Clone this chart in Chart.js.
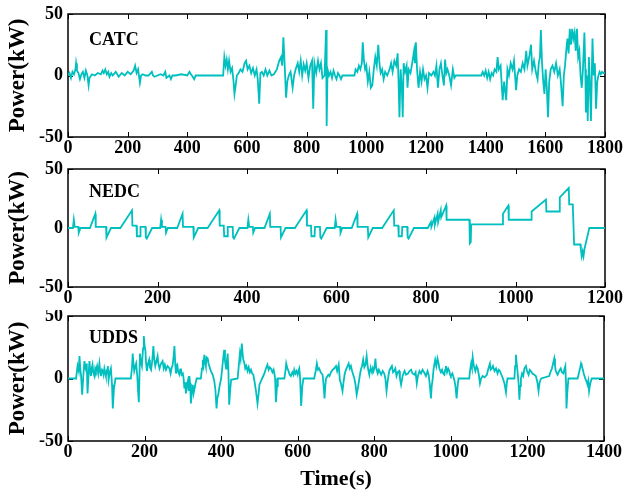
<!DOCTYPE html>
<html lang="en">
<head>
<meta charset="UTF-8">
<title>Power profiles</title>
<style>
  body { margin: 0; background: #fff; }
  .panel { position: absolute; left: 0; width: 627px; }
</style>
</head>
<body>
<div class="panel" style="top:0;height:160px"><canvas id="catcChart" width="627" height="160"></canvas></div>
<div class="panel" style="top:160px;height:150px"><canvas id="nedcChart" width="627" height="150"></canvas></div>
<div class="panel" style="top:310px;height:186px"><canvas id="uddsChart" width="627" height="186"></canvas></div>

<script src="https://cdn.jsdelivr.net/npm/chart.js"></script>
<script>
// CATC cycle: time (s) and power (kW)
const catcTime = [
  0,5,10,15,20,25,27,30,35,40, 45,50,55,60,65,69,72,80,90,100,
  110,116,120,125,130,135,139,145,150,160, 170,180,190,200,210,220,225,230,235,241,
  245,250,260,270,281,285,290,300,310,320, 326,330,340,345,350,360,380,400,407,412,
  418,423,428,440,520,524,528,532,536,540, 545,550,555,558,562,566,572,578,585,592,
  597,602,608,614,620,626,632,636,641,645, 650,656,662,668,675,682,690,700,708,714,
  718,722,726,731,735,740,746,753,758,763, 770,775,780,785,790,795,800,806,812,818,
  822,826,832,838,843,848,853,860,865,867, 870,875,880,885,890,895,900,905,910,915,
  920,960,964,970,975,980,985,988,992,996, 1000,1005,1010,1015,1020,1025,1030,1035,1040,1044,
  1048,1053,1058,1063,1070,1078,1083,1088,1094,1100, 1105,1108,1111,1115,1119,1122,1125,1130,1135,1138,
  1142,1148,1155,1160,1163,1166,1170,1175,1180,1185, 1190,1195,1200,1205,1210,1218,1225,1230,1235,1240,
  1245,1250,1255,1260,1264,1268,1272,1278,1284,1290, 1295,1300,1385,1390,1395,1400,1405,1410,1415,1420,
  1425,1430,1436,1440,1444,1450,1457,1462,1469,1473, 1478,1484,1490,1495,1502,1506,1512,1518,1524,1530,
  1536,1540,1546,1552,1556,1562,1568,1574,1578,1582, 1585,1589,1593,1597,1601,1605,1609,1613,1618,1624,
  1630,1636,1642,1648,1652,1658,1662,1666,1670,1674, 1678,1682,1686,1690,1694,1698,1702,1706,1710,1714,
  1718,1722,1726,1731,1734,1736,1740,1742,1746,1749, 1753,1756,1758,1762,1766,1770,1774,1778,1782,1786,
  1790,1795,1800
];
const catcPower = [
  0,2,-2,3,1,5,10,4,2,-3, 1,3,-2,4,0,-8,-2,1,0,2,
  1,4,2,5,1,3,-1,2,0,3, -1,2,0,3,1,4,8,2,5,-6,
  0,1,0,0,3,0,-1,0,1,0, 3,-2,0,-3,0,0,1,0,3,1,
  -1,-3,0,0,0,15,8,13,5,12, 3,6,-5,-15,-8,0,2,5,3,10,
  12,5,8,2,6,0,5,-3,-23,2, 3,0,5,0,4,0,1,5,12,15,
  8,31,10,-18,-5,0,3,-10,0,5, 10,3,12,0,9,4,10,-2,8,12,
  -27,10,2,12,5,10,-2,0,37,-41, 5,0,3,-2,4,0,-3,2,0,-3,
  0,0,5,3,8,5,10,27,12,5, 8,-5,3,-10,-8,5,15,8,25,10,
  2,5,-3,3,0,5,10,3,12,8, 18,-5,-34,5,-10,-34,10,3,8,-10,
  5,2,12,20,10,27,5,-10,3,-5, 5,-3,0,-10,2,0,3,0,8,-10,
  5,10,0,-8,13,2,5,0,-8,5, -2,0,0,3,0,4,-2,3,-3,2,
  0,5,3,15,5,8,-20,-5,-20,5, 0,10,5,12,-12,0,5,3,10,5,
  20,8,15,25,5,12,3,-3,10,15, 37,10,-5,-15,5,-10,-34,-5,5,8,
  3,10,0,5,-5,-25,0,8,20,30, 18,38,25,38,30,35,20,38,15,20,
  0,-10,5,35,5,-30,0,-37,15,-5, -37,5,30,0,10,-27,-5,0,3,1,
  3,2,2
];

// NEDC cycle: four ECE parts and the EUDC part
const nedcTime = [
  0,11,13,15,23,24,28,49,61,62,85,86,96,117,143,144,153,154,161,162,173,174,176,188,
  195,206,208,210,218,219,223,244,256,257,280,281,291,312,338,339,348,349,356,357,368,369,371,383,
  390,401,403,405,413,414,418,439,451,452,475,476,486,507,533,534,543,544,551,552,563,564,566,578,
  585,596,598,600,608,609,613,634,646,647,670,671,681,702,728,729,738,739,746,747,758,759,761,773,
  780,804,811,812,819,820,826,827,833,834,845,846,897,898,900,901,971,972,984,985,
  1035,1036,1068,1069,1098,1099,1119,1120,1128,1131,1145,1146,1148,1150,1152,1154,1165,1200
];
const nedcPower = [
  0,0,7,1,1,-4,0,0,12,1,1,-8,0,0,15,2,2,-7,-7,1,1,-8,-9,0,
  0,0,7,1,1,-4,0,0,12,1,1,-8,0,0,15,2,2,-7,-7,1,1,-8,-9,0,
  0,0,7,1,1,-4,0,0,12,1,1,-8,0,0,15,2,2,-7,-7,1,1,-8,-9,0,
  0,0,7,1,1,-4,0,0,12,1,1,-8,0,0,15,2,2,-7,-7,1,1,-8,-9,0,
  0,0,5,1,9,3,12,5,15,9,19,7,7,-13,-12,3,3,12,19,7,
  7,14,24,14,14,26,34,20,20,-14,-14,-18,-24,-20,-24,-18,0,0
];

// UDDS cycle
const uddsTime = [
  0,21,25,28,30,32,34,37,40,43, 45,47,49,51,54,56,58,60,62,64,
  66,69,71,73,76,79,82,84,86,89, 91,93,95,97,99,102,104,106,109,112,
  115,117,120,124,164,167,169,171,173,176, 178,181,183,185,188,190,193,196,198,200,
  202,204,206,209,212,214,217,220,223,225, 228,231,234,236,239,243,247,250,253,256,
  260,265,268,271,273,276,278,280,282,284, 286,288,291,293,295,297,300,302,304,306,
  308,310,313,315,317,319,321,324,326,328, 330,333,336,347,350,352,354,356,358,360,
  362,365,367,369,373,378,382,385,388,390, 393,396,400,404,406,408,410,413,415,417,
  419,421,424,426,443,446,449,451,454,456, 458,461,463,466,469,472,475,478,481,484,
  487,491,495,498,500,504,507,510,513,517, 521,524,527,530,534,537,539,541,543,546,
  548,565,568,570,573,576,579,582,586,589, 591,594,597,600,602,604,606,609,612,615,
  643,647,650,653,656,660,665,667,670,672, 674,680,683,687,691,695,700,703,707,710,
  713,717,720,723,726,729,733,736,739,742, 745,748,751,754,757,759,762,765,768,771,
  774,777,780,783,785,787,789,791,794,796, 798,801,803,805,807,809,812,815,818,822,
  826,829,832,835,839,842,846,849,852,855, 858,861,865,867,870,874,879,883,888,892,
  896,900,905,908,911,914,918,922,926,930, 935,939,942,945,948,950,952,955,959,962,
  965,968,970,974,977,980,983,985,987,990, 993,996,998,1000,1004,1009,1012,1015,1018,1020,
  1048,1050,1053,1055,1057,1060,1064,1067,1070,1073, 1076,1079,1083,1088,1094,1098,1102,1104,1107,1110,
  1114,1118,1122,1125,1128,1132,1136,1140,1144,1146, 1148,1166,1168,1170,1172,1174,1177,1179,1181,1183,
  1186,1189,1192,1196,1199,1203,1206,1209,1213,1218, 1222,1226,1229,1232,1236,1257,1260,1264,1267,1270,
  1272,1274,1277,1279,1283,1287,1290,1294,1297,1299, 1301,1302,1304,1307,1331,1335,1338,1340,1342,1344,
  1347,1351,1354,1357,1359,1361,1364,1368,1400
];
const uddsPower = [
  0,0,10,6,18,8,3,-13,2,14, 9,7,12,-12,4,14,6,2,8,11,
  5,2,8,6,10,4,12,6,2,7, 6,3,8,5,2,7,10,-1,5,8,
  -5,-24,-8,0,0,8,20,12,6,10, 12,2,-10,-19,20,14,10,24,34,26,
  23,12,6,12,15,9,7,14,26,16, 10,14,18,12,8,12,14,8,11,7,
  10,8,4,9,10,18,26,12,4,8, 10,5,3,7,8,3,4,0,-8,-3,
  -12,-6,-2,-10,2,-4,-20,-8,-5,-12, -9,-4,0,0,8,15,11,19,13,10,
  17,16,12,10,6,3,-2,-9,-24,-16, -12,-6,0,12,18,23,14,8,14,20,
  6,-21,-8,-1,0,10,20,16,28,20, 15,12,8,10,6,9,5,7,4,3,
  -2,-10,-20,-12,-5,-2,0,2,4,8, 11,7,9,8,5,7,4,0,-19,-6,
  0,0,6,12,8,6,3,2,5,3, 7,4,6,3,6,8,2,-22,-6,0,
  0,6,12,7,8,5,3,-3,-16,-6, 0,3,2,5,7,8,10,6,11,-1,
  -4,-10,-2,4,7,9,12,8,10,6, 3,0,-5,-13,-8,-4,2,7,10,15,
  9,11,18,9,6,3,7,8,5,8, 6,10,16,8,6,4,7,5,3,6,
  4,0,-10,-2,6,8,10,5,6,8, 2,5,6,0,-5,2,6,3,4,6,
  7,4,3,5,-4,2,6,4,7,5, 2,6,3,-5,-16,-6,-2,8,15,10,
  16,12,8,5,7,4,3,7,10,5, 8,6,3,2,4,-1,-6,-16,-5,0,
  0,6,12,9,17,10,6,10,8,3, -4,0,2,1,3,8,12,7,8,10,
  6,8,4,7,6,3,0,-4,-11,-4, 0,0,10,19,12,6,-4,-17,-6,0,
  4,2,8,10,6,3,7,6,4,3, 2,-3,-10,-3,0,2,5,8,12,16,
  10,6,4,3,6,8,5,4,8,10, -6,-24,-12,0,0,5,9,12,10,8,
  4,0,-2,-5,-2,-10,-4,0,0
];

const yMin = -50, yMax = 50, yStep = 50;
const lineColor = '#00bfbf';
const serif = "'Liberation Serif', 'Times New Roman', serif";

Chart.defaults.font.family = serif;
Chart.defaults.font.weight = 'bold';
Chart.defaults.color = '#000';

// box around the plot with inward ticks on all four sides
const boxPlugin = {
  id: 'box',
  beforeDatasetsDraw(chart) {
    const { ctx, chartArea: a, scales: { x, y } } = chart;
    ctx.save();
    ctx.strokeStyle = '#000';
    ctx.lineWidth = 1;
    ctx.beginPath();
    x.ticks.forEach(t => {
      const px = Math.round(x.getPixelForValue(t.value)) + 0.5;
      ctx.moveTo(px, a.bottom); ctx.lineTo(px, a.bottom - 5);
      ctx.moveTo(px, a.top); ctx.lineTo(px, a.top + 5);
    });
    y.ticks.forEach(t => {
      const py = Math.round(y.getPixelForValue(t.value)) + 0.5;
      ctx.moveTo(a.left, py); ctx.lineTo(a.left + 5, py);
      ctx.moveTo(a.right, py); ctx.lineTo(a.right - 5, py);
    });
    ctx.stroke();
    ctx.lineWidth = 1.5;
    ctx.strokeRect(a.left, a.top, a.right - a.left, a.bottom - a.top);
    ctx.restore();
  },
  afterDraw(chart) {
    const o = chart.options.plugins.box;
    const { ctx, chartArea: a } = chart;
    ctx.save();
    ctx.font = 'bold 18px ' + serif;
    ctx.fillStyle = '#000';
    ctx.textBaseline = 'alphabetic';
    ctx.fillText(o.label, a.left + 21, a.top + o.labelY);
    ctx.restore();
  }
};

function makeChart(id, times, powers, xMax, label, labelY, top, right, xHeight, showTime) {
  const ctx = document.getElementById(id).getContext('2d');
  return new Chart(ctx, {
    type: 'line',
    data: {
      datasets: [{
        data: times.map((t, i) => ({ x: t, y: powers[i] })),
        borderColor: lineColor,
        borderWidth: 1.8,
        pointRadius: 0,
        tension: 0,
        fill: false
      }]
    },
    options: {
      responsive: false,
      animation: false,
      devicePixelRatio: 1,
      layout: { padding: { left: 0, top: top, right: right, bottom: 0 } },
      plugins: {
        legend: { display: false },
        tooltip: { enabled: false },
        box: { label: label, labelY: labelY }
      },
      scales: {
        x: {
          type: 'linear',
          min: 0, max: xMax,
          grid: { display: false, drawTicks: false },
          border: { display: false },
          ticks: { stepSize: 200, maxRotation: 0, padding: 1, font: { size: 18 }, callback: v => v },
          title: { display: showTime, text: 'Time(s)', font: { size: 22 }, padding: { top: 0, bottom: 3 } },
          afterFit: s => { s.height = xHeight; s.paddingLeft = 0; s.paddingRight = 0; }
        },
        y: {
          min: yMin, max: yMax,
          grid: { display: false, drawTicks: false },
          border: { display: false },
          ticks: { stepSize: yStep, padding: 5, font: { size: 18 }, callback: v => v },
          title: { display: true, text: 'Power(kW)', font: { size: 23 }, padding: { top: 4, bottom: 0 } },
          afterFit: s => { s.width = 68; s.paddingTop = 0; s.paddingBottom = 0; }
        }
      }
    },
    plugins: [boxPlugin]
  });
}

makeChart('catcChart', catcTime, catcPower, 1800, 'CATC', 31, 14, 22, 23, false);
makeChart('nedcChart', nedcTime, nedcPower, 1200, 'NEDC', 28, 9, 22, 23, false);
makeChart('uddsChart', uddsTime, uddsPower, 1400, 'UDDS', 27, 6, 23, 55, true);
</script>
</body>
</html>
